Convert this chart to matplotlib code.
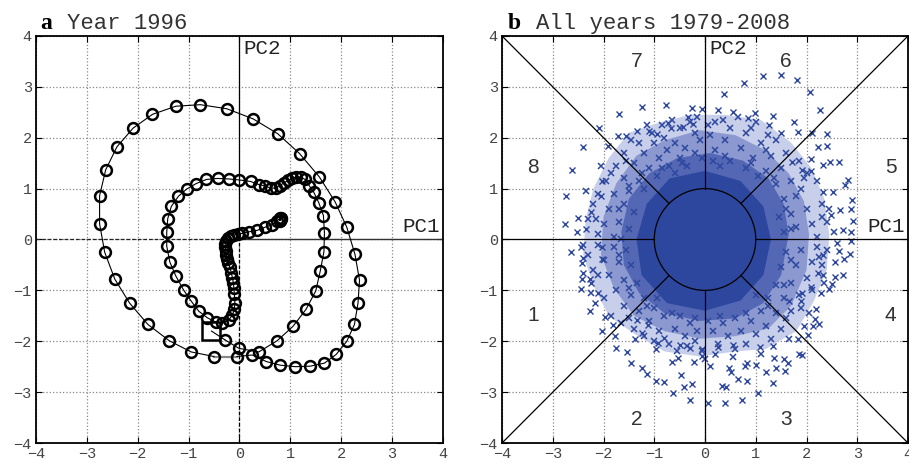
import numpy as np
import matplotlib.pyplot as plt
from matplotlib.patches import Circle

# ---- panel a: trajectory 1996 ----
start_pt = (-0.55, -1.80)

inner_x = [-0.55, -0.29, -0.01, 0.38, 0.74, 1.05, 1.31, 1.50, 1.59, 1.66, 1.67, 1.65, 1.56, 1.46,
           1.37, 1.29, 1.20, 1.11, 1.03, 0.95, 0.87, 0.79, 0.71, 0.61, 0.51, 0.38, 0.22, 0.00,
           -0.21, -0.43, -0.65, -0.85, -1.04, -1.20, -1.34, -1.41, -1.43, -1.43, -1.37, -1.25,
           -1.10, -0.95, -0.80, -0.63, -0.47, -0.34, -0.21, -0.14, -0.10, -0.09, -0.10, -0.11,
           -0.12, -0.14, -0.16, -0.19, -0.22, -0.24, -0.26, -0.27, -0.28, -0.28, -0.27, -0.23,
           -0.17, -0.10, -0.02, 0.05, 0.18, 0.35, 0.50, 0.64, 0.74, 0.79, 0.81, 0.79, 0.82, 0.80]
inner_y = [-1.80, -1.97, -2.14, -2.21, -1.99, -1.71, -1.37, -1.01, -0.61, -0.24, 0.13, 0.47, 0.72,
           0.93, 1.06, 1.18, 1.23, 1.23, 1.20, 1.16, 1.11, 1.06, 1.01, 1.01, 1.05, 1.08, 1.14, 1.17,
           1.19, 1.20, 1.18, 1.10, 0.99, 0.85, 0.65, 0.41, 0.14, -0.13, -0.44, -0.72, -0.99, -1.21,
           -1.41, -1.54, -1.62, -1.65, -1.58, -1.49, -1.37, -1.25, -1.08, -0.95, -0.85, -0.75,
           -0.65, -0.55, -0.46, -0.38, -0.30, -0.22, -0.15, -0.08, -0.02, 0.03, 0.07, 0.09, 0.11,
           0.12, 0.15, 0.18, 0.24, 0.29, 0.36, 0.42, 0.40, 0.37, 0.43, 0.39]

outer_x = [-0.05, 0.25, 0.53, 0.80, 1.10, 1.39, 1.67, 1.90, 2.11, 2.26, 2.33, 2.36, 2.27, 2.11,
           1.88, 1.57, 1.18, 0.75, 0.27, -0.25, -0.77, -1.25, -1.71, -2.09, -2.41, -2.63, -2.75,
           -2.75, -2.65, -2.45, -2.16, -1.80, -1.38, -0.95, -0.50]
outer_y = [-2.30, -2.27, -2.40, -2.47, -2.50, -2.49, -2.43, -2.26, -2.00, -1.67, -1.25, -0.80,
           -0.29, 0.24, 0.74, 1.23, 1.69, 2.08, 2.37, 2.57, 2.65, 2.62, 2.46, 2.19, 1.82, 1.37,
           0.86, 0.31, -0.25, -0.78, -1.25, -1.67, -1.99, -2.21, -2.30]

# ---- panel b: all years ----
sparse_pts = [
    (-1.25, 2.61), (-0.76, 2.65), (-1.70, 2.46), (-2.09, 2.20), (-2.41, 1.82), (-2.63, 1.37),
    (-2.74, 0.85), (-2.75, 0.31), (-2.50, 0.43), (-2.52, 0.14), (-1.35, 2.14), (-1.11, 2.13),
    (-0.95, 2.08), (-1.91, 1.84), (-1.71, 2.03), (-1.55, 2.03), (-0.25, 2.58), (-0.05, 2.56),
    (-0.34, 2.40), (-0.73, 2.29), (-0.67, 2.20), (-0.44, 2.22), (-0.24, 2.27), (-2.04, 1.14),
    (-2.05, 0.86), (-2.25, 0.55), (-2.35, 0.20),
    (0.77, 3.08), (1.14, 3.22), (1.50, 3.24), (1.81, 3.14), (0.37, 2.86), (2.07, 2.90),
    (2.27, 2.55), (1.34, 2.43), (1.75, 2.30), (0.99, 2.48), (0.84, 2.38), (1.27, 2.25),
    (1.50, 2.10), (1.84, 2.12), (2.10, 2.09), (2.40, 2.08), (2.22, 1.82), (2.41, 1.83),
    (2.46, 1.53), (2.65, 1.52), (2.81, 1.16), (2.76, 1.08), (2.33, 1.46), (2.08, 1.58),
    (2.08, 1.35), (1.91, 1.37), (1.71, 1.53), (2.52, 0.94), (2.89, 0.78), (2.88, 0.60),
    (2.66, 0.57), (2.48, 0.49), (2.91, 0.37), (2.71, 0.18), (2.88, 0.14), (2.32, 0.93),
    (0.25, 2.55), (0.55, 2.50),
    (-2.64, -0.25), (-2.44, -0.14), (-2.40, -0.36), (-2.43, -0.47), (-2.40, -0.65), (-2.43, -0.78),
    (-2.27, -0.77), (-2.25, -0.85), (-2.44, -0.97), (-2.27, -1.41), (-2.04, -0.39), (-2.03, -0.14),
    (-2.10, -1.05), (-2.16, -1.24), (-2.04, -1.80), (-1.78, -1.90), (-1.75, -2.14), (-1.54, -2.22),
    (-1.46, -2.43), (-1.25, -2.52), (-1.14, -2.64), (-0.96, -2.78), (-0.80, -2.80), (-0.63, -3.01),
    (-0.47, -2.67), (-0.42, -2.90), (-0.25, -2.84), (-0.30, -3.15), (-0.65, -2.41), (-0.54, -2.32),
    (-0.50, -2.08), (-0.29, -2.14), (-0.21, -2.40), (-0.05, -2.16), (-0.05, -2.29), (-1.97, -1.52),
    (-1.81, -1.69), (-1.35, -1.58), (-1.25, -1.83), (-1.12, -1.69), (-0.96, -2.16), (-0.93, -2.03),
    (-0.80, -1.93), (-1.37, -1.96),
    (0.05, -3.22), (0.39, -3.22), (0.72, -3.16), (1.05, -3.02), (1.34, -2.82), (0.33, -2.88),
    (0.41, -2.90), (0.65, -2.75), (0.82, -2.79), (0.10, -2.48), (0.47, -2.52), (0.52, -2.60),
    (0.78, -2.48), (0.83, -2.42), (1.01, -2.47), (1.21, -2.60), (1.39, -2.52), (1.58, -2.58),
    (1.63, -2.43), (1.56, -2.35), (1.36, -2.32), (1.86, -2.25), (1.92, -2.27), (1.84, -1.96),
    (1.34, -2.09), (1.08, -2.12), (0.26, -2.12), (0.20, -2.25), (0.56, -2.08), (2.03, -1.88),
    (1.96, -1.71), (2.12, -1.71), (2.25, -1.67), (2.16, -1.57), (2.19, -1.37), (1.90, -1.21),
    (1.65, -1.21), (1.92, -1.05), (2.29, -1.05), (2.50, -0.88), (2.45, -0.98), (2.57, -0.73),
    (2.71, -0.70), (2.32, -0.69), (2.22, -0.65), (2.08, -0.93), (2.57, -0.44), (2.73, -0.39),
    (2.86, -0.29), (2.65, -0.23), (2.60, -0.07), (2.88, -0.02), (2.32, -0.31),
]

mid_pts = [
    (-0.3, 2.3), (-0.5, 2.2), (-0.2, 2.1), (-0.8, 2.0), (-0.6, 1.9), (-1.0, 1.9), (-0.4, 1.8),
    (-1.2, 1.7), (-0.9, 1.6), (-0.5, 1.6), (-0.2, 1.7), (-1.4, 1.5), (-1.1, 1.4), (-0.7, 1.45),
    (-1.6, 1.2), (-1.3, 1.15), (-0.95, 1.25), (-1.8, 0.9), (-1.5, 0.95), (-1.2, 1.0), (-1.9, 0.6),
    (-1.6, 0.7), (-1.4, 0.55), (-2.0, 0.3), (-1.7, 0.35), (-1.5, 0.2), (-2.1, 0.1), (-1.8, 0.05),
    (-0.35, 1.45), (-0.6, 1.3), (-1.75, 1.45), (-1.95, 1.15), (-2.2, 0.7), (-2.3, 0.4),
    (-1.3, 1.9), (-1.6, 1.7), (-1.05, 2.1), (-0.1, 1.95), (-0.75, 1.75), (-2.1, 0.9),
    (0.2, 2.3), (0.5, 2.2), (0.1, 2.05), (0.8, 2.1), (0.4, 1.95), (1.1, 1.9), (0.7, 1.8),
    (0.2, 1.75), (1.3, 1.65), (0.95, 1.6), (0.5, 1.55), (1.5, 1.4), (1.2, 1.35), (0.8, 1.4),
    (1.7, 1.15), (1.4, 1.1), (0.3, 1.45), (1.8, 0.85), (1.55, 0.8), (2.0, 0.6), (1.7, 0.5),
    (1.45, 0.45), (2.1, 0.3), (1.8, 0.25), (1.55, 0.15), (2.2, 0.05), (1.9, 1.0), (2.3, 0.7),
    (1.6, 1.7), (1.0, 2.3), (2.0, 1.3), (0.65, 2.4), (1.25, 2.05), (2.4, 0.35), (0.15, 1.55),
    (1.05, 1.25),
    (-2.1, -0.1), (-1.8, -0.15), (-1.55, -0.2), (-2.0, -0.4), (-1.7, -0.45), (-1.45, -0.5),
    (-1.9, -0.7), (-1.6, -0.8), (-1.35, -0.85), (-1.75, -1.0), (-1.45, -1.1), (-1.2, -1.15),
    (-1.6, -1.3), (-1.3, -1.4), (-1.0, -1.35), (-1.1, -1.6), (-0.8, -1.5), (-0.5, -1.5),
    (-0.9, -1.8), (-0.6, -1.75), (-0.3, -1.65), (-0.4, -1.9), (-0.15, -1.8), (-2.2, -0.6),
    (-2.0, -1.15), (-1.85, -1.5), (-1.4, -1.75), (-0.7, -2.05), (-0.2, -2.0), (-2.3, -0.3),
    (-1.2, -1.9), (-0.95, -1.15),
    (2.2, -0.15), (1.9, -0.2), (1.6, -0.25), (2.1, -0.45), (1.8, -0.5), (1.5, -0.55), (2.0, -0.75),
    (1.7, -0.85), (1.4, -0.9), (1.85, -1.1), (1.55, -1.15), (1.25, -1.15), (1.7, -1.4),
    (1.4, -1.45), (1.1, -1.4), (1.2, -1.7), (0.9, -1.6), (0.6, -1.55), (1.0, -1.85), (0.7, -1.8),
    (0.35, -1.65), (0.45, -1.9), (0.15, -1.8), (2.3, -0.5), (2.1, -1.0), (1.9, -1.35),
    (1.5, -1.75), (0.8, -2.05), (0.25, -2.05), (2.4, -0.2), (1.3, -1.95), (1.0, -1.1),
    (0.05, -1.6), (-0.05, -2.2),
    (-0.15, 2.4), (-0.65, 2.35), (-1.15, 2.25), (-1.45, 1.95), (-1.85, 1.3), (-2.05, 1.45),
    (-2.35, 0.95), (-2.4, -0.1), (-2.25, -1.05), (-1.65, -1.65), (-1.0, -2.0), (-0.55, -2.2),
    (0.0, -2.35), (0.55, -2.3), (1.1, -2.25), (1.65, -1.95), (2.05, -1.45), (2.35, -0.85),
    (2.55, 0.15), (2.45, 0.6), (2.2, 1.15), (1.85, 1.55), (1.4, 1.95), (0.9, 2.2), (0.35, 2.35),
    (-0.45, 1.5), (-0.85, 1.4), (-1.25, 1.3), (-1.5, 1.05), (-1.7, 0.6), (-1.65, 0.0),
    (-1.7, -0.3), (-1.5, -0.95), (-1.15, -1.3), (-0.65, -1.45), (-0.2, -1.55), (0.3, -1.5),
    (0.8, -1.45), (1.25, -1.3), (1.55, -0.9), (1.7, -0.4), (1.7, 0.2), (1.6, 0.6), (1.35, 1.2),
    (0.9, 1.5), (0.4, 1.65), (-0.05, 1.6), (-0.85, 2.25), (-1.55, 1.55), (-2.15, 0.4),
    (-2.1, -0.7), (-1.5, -1.55), (-0.35, -2.1), (0.6, -2.15), (1.6, -1.55), (2.25, -0.35),
    (2.3, 0.45), (1.95, 1.2), (1.2, 1.75), (0.05, 2.25),
]

# outlines of the denser parts of the cloud
core_x = [1.30, 1.15, 0.70, 0.00, -0.70, -1.15, -1.35, -1.25, -0.75, 0.00, 0.70, 1.15]
core_y = [0.00, 0.65, 1.15, 1.35, 1.20, 0.70, 0.00, -0.70, -1.25, -1.40, -1.20, -0.70]
dense_x = [1.65, 1.55, 1.25, 0.75, 0.10, -0.55, -1.10, -1.50, -1.65, -1.60, -1.30, -0.80,
           -0.10, 0.60, 1.15, 1.50]
dense_y = [0.10, 0.70, 1.20, 1.55, 1.70, 1.60, 1.30, 0.80, 0.15, -0.50, -1.05, -1.45,
           -1.60, -1.55, -1.25, -0.70]
mid_x = [2.05, 1.95, 1.65, 1.20, 0.60, -0.10, -0.80, -1.35, -1.75, -2.00, -2.05, -1.80,
         -1.40, -0.80, -0.10, 0.60, 1.25, 1.70, 2.00]
mid_y = [0.10, 0.75, 1.30, 1.75, 2.05, 2.15, 1.95, 1.65, 1.10, 0.45, -0.30, -0.95,
         -1.50, -1.80, -1.95, -1.90, -1.75, -1.30, -0.60]
cloud_x = [2.45, 2.35, 2.10, 1.70, 1.10, 0.40, -0.30, -0.90, -1.50, -1.90, -2.20, -2.35,
           -2.40, -2.20, -1.90, -1.40, -0.80, -0.10, 0.60, 1.20, 1.80, 2.15, 2.40]
cloud_y = [0.10, 0.80, 1.40, 1.90, 2.35, 2.45, 2.45, 2.30, 2.10, 1.60, 1.00, 0.40,
           -0.30, -0.90, -1.50, -1.85, -2.20, -2.30, -2.20, -2.15, -1.80, -1.20, -0.60]

phase_labels = ['1', '2', '3', '4', '5', '6', '7', '8']
phase_x = [-3.39, -1.34, 1.59, 3.66, 3.66, 1.59, -1.34, -3.39]
phase_y = [-1.50, -3.54, -3.54, -1.50, 1.42, 3.50, 3.50, 1.42]

ticks = [-4, -3, -2, -1, 0, 1, 2, 3, 4]

mono = 'Liberation Mono'
blue = '#2e479e'

fig = plt.figure(figsize=(9.09, 4.65), dpi=100)
ax1 = fig.add_axes([0.0396, 0.0473, 0.4477, 0.8753])
ax2 = fig.add_axes([0.5523, 0.0473, 0.4466, 0.8753])

for ax in (ax1, ax2):
    ax.set_xlim(-4, 4)
    ax.set_ylim(-4, 4)
    ax.set_xticks(ticks)
    ax.set_yticks(ticks)
    ax.grid(True, ls=':', color='#888888', lw=0.9)
    ax.set_axisbelow(True)
    ax.tick_params(direction='in', length=4, width=0.8, top=True, right=True,
                   labelsize=11, labelcolor='#444444', pad=3)
    for lab in ax.get_xticklabels() + ax.get_yticklabels():
        lab.set_family(mono)
    for sp in ax.spines.values():
        sp.set_linewidth(1.3)

# panel a
ax1.plot([0, 4], [0, 0], color='#333333', lw=1.0, zorder=2)
ax1.plot([-4, 0], [0, 0], color='#222222', lw=0.9, ls=(0, (3, 1.5)), zorder=2)
ax1.plot([0, 0], [0, 4], color='black', lw=0.9, zorder=2)
ax1.plot([0, 0], [-4, 0], color='black', lw=0.9, ls=(0, (3, 1.5)), zorder=2)
ax1.plot([outer_x[-1], outer_x[0]], [outer_y[-1], outer_y[0]], color='#888888', lw=1.6, zorder=3)
ax1.plot(outer_x, outer_y, color='black', lw=0.8, marker='o', ms=7.8, mfc='none',
         mec='black', mew=1.8, zorder=4)
ax1.plot(inner_x[1:], inner_y[1:], color='black', lw=0.8, marker='o', ms=7.8, mfc='none',
         mec='black', mew=1.8, zorder=4)
ax1.plot(inner_x[:2], inner_y[:2], color='black', lw=0.8, zorder=4)
ax1.plot(start_pt[0], start_pt[1], marker='s', ms=12.5, mfc='none', mec='black', mew=1.8,
         zorder=5)
ax1.text(0.08, 3.75, 'PC2', family=mono, fontsize=15, color='#222222', va='center', ha='left')
ax1.text(3.93, 0.07, 'PC1', family=mono, fontsize=15, color='#222222', va='bottom', ha='right')
ax1.text(0.01, 1.016, 'a', transform=ax1.transAxes, family='Liberation Serif',
         weight='bold', fontsize=17, va='baseline')
ax1.text(0.076, 1.016, 'Year 1996', transform=ax1.transAxes, family=mono, fontsize=16,
         color='#333333', va='baseline')

# panel b
ax2.fill(cloud_x, cloud_y, color='#c8cfea', lw=0, zorder=1)
ax2.fill(mid_x, mid_y, color='#8c99d0', lw=0, zorder=1.3)
ax2.fill(dense_x, dense_y, color='#5467b4', lw=0, zorder=1.5)
ax2.fill(core_x, core_y, color=blue, lw=0, zorder=1.8)
ax2.plot([p[0] for p in mid_pts], [p[1] for p in mid_pts], 'x', color=blue, ms=4.2, mew=1.1,
         zorder=2)
ax2.plot([p[0] for p in sparse_pts], [p[1] for p in sparse_pts], 'x', color=blue, ms=4.0,
         mew=1.0, zorder=2)

r = 1 / np.sqrt(2)
seg_lw = 0.9
ax2.plot([-4, -r], [4, r], color='black', lw=seg_lw, zorder=3)
ax2.plot([4, r], [4, r], color='black', lw=seg_lw, zorder=3)
ax2.plot([-4, -r], [-4, -r], color='black', lw=seg_lw, zorder=3)
ax2.plot([4, r], [-4, -r], color='black', lw=seg_lw, zorder=3)
ax2.plot([0, 0], [1, 4], color='black', lw=seg_lw, zorder=3)
ax2.plot([0, 0], [-1, -4], color='black', lw=seg_lw, zorder=3)
ax2.plot([1, 4], [0, 0], color='black', lw=seg_lw, zorder=3)
ax2.plot([-1, -4], [0, 0], color='black', lw=seg_lw, zorder=3)
ax2.add_patch(Circle((0, 0), 1, fill=False, ec='black', lw=seg_lw, zorder=3))

for lab, px, py in zip(phase_labels, phase_x, phase_y):
    ax2.text(px, py, lab, family='Liberation Sans', fontsize=15, color='#333333',
             ha='center', va='center')
ax2.text(0.08, 3.75, 'PC2', family=mono, fontsize=15, color='#222222', va='center', ha='left')
ax2.text(3.93, 0.07, 'PC1', family=mono, fontsize=15, color='#222222', va='bottom', ha='right')
ax2.text(0.015, 1.016, 'b', transform=ax2.transAxes, family='Liberation Serif',
         weight='bold', fontsize=17, va='baseline')
ax2.text(0.084, 1.016, 'All years 1979-2008', transform=ax2.transAxes, family=mono,
         fontsize=16, color='#333333', va='baseline')

fig.savefig('out.png', dpi=100)
